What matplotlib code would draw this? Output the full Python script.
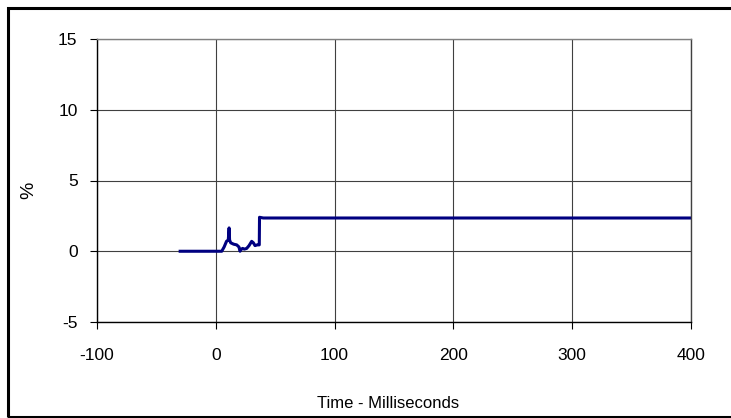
import matplotlib
matplotlib.use("Agg")
import matplotlib.pyplot as plt
from matplotlib.patches import Rectangle

# Datos
tiempo_ms = [-30, 5, 7, 9, 10.5, 11.2, 11.6, 12.5, 15, 17.6, 19.5, 20.4,
             21.5, 22.6, 24, 26, 28, 30.2, 31.6, 33, 34.9, 36.6, 36.8, 40, 400]
porcentaje = [0, 0, 0.3, 0.7, 0.8, 1.65, 0.8, 0.6, 0.5, 0.45, 0.3, 0.0,
              0.15, 0.2, 0.15, 0.2, 0.4, 0.7, 0.6, 0.4, 0.45, 0.45, 2.4, 2.35, 2.35]
xticks = [-100, 0, 100, 200, 300, 400]
yticks = [-5, 0, 5, 10, 15]

plt.rcParams.update({
    "font.family": ["Liberation Sans", "DejaVu Sans"],
    "font.size": 12.5,
    "axes.unicode_minus": False,
})

W, H = 731, 418
fig = plt.figure(figsize=(W / 100, H / 100), dpi=100)

# Marco exterior grueso (el borde derecho queda fuera de la imagen)
fig.patches.append(Rectangle((7.5 / W, 1 - 417 / H), (760 - 7.5) / W, (417 - 7.5) / H,
                             transform=fig.transFigure, fill=False,
                             edgecolor="black", linewidth=2.2))

ax = fig.add_axes([97 / W, 1 - 322 / H, (691 - 97) / W, (322 - 39) / H])
ax.plot(tiempo_ms, porcentaje, color="#000080", linewidth=2.2)

ax.set_xlim(-100, 400)
ax.set_ylim(-5, 15)
ax.set_xticks(xticks)
ax.set_yticks(yticks)
ax.grid(True, color="#404040", linewidth=0.8)
ax.set_axisbelow(True)
ax.tick_params(direction="out", length=5, width=0.8, colors="black")
ax.tick_params(axis="y", pad=9)
ax.tick_params(axis="x", pad=14)
ax.spines["top"].set_color("#808080")
ax.spines["right"].set_color("#404040")
for s in ax.spines.values():
    s.set_linewidth(1.0)

fig.text(388 / W, 1 - 403 / H, "Time - Milliseconds", ha="center", va="center", fontsize=12)
fig.text(29 / W, 1 - 190 / H, "%", ha="center", va="center", rotation=90, fontsize=14)

fig.savefig("out.png", dpi=100, facecolor="white")
